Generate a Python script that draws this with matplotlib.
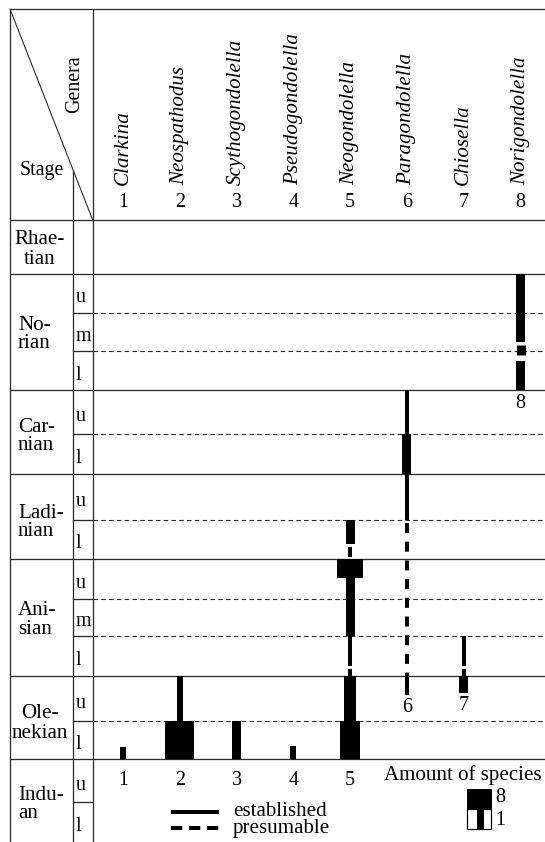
import numpy as np
import matplotlib.pyplot as plt
from matplotlib.patches import Rectangle
from matplotlib.transforms import blended_transform_factory

plt.rcParams['font.family'] = ['Liberation Serif', 'DejaVu Serif']
plt.rcParams['lines.scale_dashes'] = False

# stages from the base of the Triassic upward, with their substages
stage_labels = ['Indu-\nan', 'Ole-\nnekian', 'Ani-\nsian', 'Ladi-\nnian', 'Car-\nnian', 'No-\nrian', 'Rhae-\ntian']
substages = [['l', 'u'], ['l', 'u'], ['l', 'm', 'u'], ['l', 'u'], ['l', 'u'], ['l', 'm', 'u'], ['']]

genera = ['Clarkina', 'Neospathodus', 'Scythogondolella', 'Pseudogondolella',
          'Neogondolella', 'Paragondolella', 'Chiosella', 'Norigondolella']

# ranges: (genus no., base, top, amount of species); base/top in substages counted
# from the base of the Induan, amount 0 = range line only
established = [
    (1, 2.0, 2.32, 1),
    (2, 2.0, 3.0, 8),
    (2, 3.0, 4.0, 1),
    (3, 2.0, 3.0, 2),
    (4, 2.0, 2.34, 1),
    (5, 2.0, 3.0, 5),
    (5, 3.0, 4.0, 3),
    (5, 4.26, 5.0, 0),
    (5, 5.0, 6.52, 2),
    (5, 6.52, 7.0, 7),
    (5, 7.38, 8.0, 2),
    (6, 3.58, 4.0, 0),
    (6, 8.0, 9.0, 0),
    (6, 9.0, 10.0, 2),
    (6, 10.0, 11.0, 0),
    (7, 3.63, 4.0, 2),
    (7, 4.26, 5.0, 0),
    (8, 11.0, 11.74, 2),
    (8, 12.24, 14.0, 2),
]
presumable = [
    (5, 4.0, 4.26, 0),
    (5, 7.0, 7.38, 0),
    (6, 4.0, 8.0, 0),
    (7, 4.0, 4.26, 0),
    (8, 11.74, 12.24, 2),
]

W, H = 545, 842
row_px = [40, 43, 38, 45, 40, 37, 40, 39, 46, 40, 44, 39, 38, 39, 54]
col0, col_step = 66.1, 56.8
ink = '#2b2b2b'


def bar_px(n):
    return 2.3 + 3.4 * n if n else 4.0


fig = plt.figure(figsize=(W / 72, H / 72), dpi=72)
frame = fig.add_axes([0, 0, 1, 1])
frame.set_xlim(0, W)
frame.set_ylim(H, 0)
frame.axis('off')

edges = np.concatenate([[0], np.cumsum(row_px)]).astype(float)
lv = np.arange(len(edges), dtype=float)
hdr = H - edges[-1]
ax = fig.add_axes([0, 0, 1, edges[-1] / H], zorder=2)
ax.patch.set_visible(False)
ax.axis('off')
ax.set_yscale('function', functions=(lambda v: np.interp(v, lv, edges),
                                     lambda p: np.interp(p, edges, lv)))
ax.set_ylim(0, len(row_px))
ax.set_xlim(-col0 / col_step, (W - col0) / col_step)

px_lv = blended_transform_factory(frame.transData, ax.transData)
g_px = blended_transform_factory(ax.transData, frame.transData)

# table grid
n_sub = [len(s) for s in substages]
stage_edges = np.concatenate([[0], np.cumsum(n_sub)])
first_base = min(r[1] for r in established)
line_kw = dict(color=ink, lw=1.3, solid_capstyle='butt')
for e in stage_edges[1:]:
    frame.plot([10, W], [e, e], transform=px_lv, **line_kw)
for s, subs in enumerate(substages):
    for k in range(1, len(subs)):
        e = stage_edges[s] + k
        frame.plot([73, 92.7], [e, e], transform=px_lv, **line_kw)
        if e > first_base:
            frame.plot([92.7, W], [e, e], transform=px_lv, color=ink, lw=1.1,
                       ls=(0, (4.5, 3.3)))
frame.plot([10, W], [9, 9], **line_kw)
frame.plot([10, 10], [9, H], **line_kw)
frame.plot([92.7, 92.7], [9, H], **line_kw)
frame.plot([73, 73], [170, H], **line_kw)
frame.plot([10, 92.7], [9, hdr], color=ink, lw=1.1)

frame.text(20, 175, 'Stage', fontsize=20, va='baseline')
frame.text(75, 84, 'Genera', fontsize=20, rotation=90, ha='center', va='center')

for s, label in enumerate(stage_labels):
    c = (stage_edges[s] + stage_edges[s + 1]) / 2
    wide = label in ('Rhae-\ntian', 'Ole-\nnekian')
    for j, line in enumerate(label.split('\n')):
        frame.annotate(line, xy=(40 if wide else 18, c), xycoords=px_lv,
                       xytext=(0, 2.5 - 19 * j), textcoords='offset points',
                       ha='center' if wide else 'left', va='baseline', fontsize=21)
    for k, sub in enumerate(substages[s]):
        frame.annotate(sub, xy=(75.5, stage_edges[s] + k + 0.5), xycoords=px_lv,
                       xytext=(0, -9), textcoords='offset points',
                       ha='left', va='baseline', fontsize=20)

# genus headings
for i, name in enumerate(genera, start=1):
    ax.text(i, 185, name, transform=g_px, rotation=90, ha='center', va='bottom',
            fontsize=21, style='italic')
    ax.text(i, 202.5, str(i), transform=g_px, ha='center', va='center', fontsize=20)

# ranges
for g, base, top, n in established:
    ax.bar(g, top - base, bottom=base, width=bar_px(n) / col_step,
           color='black', linewidth=0)
for g, base, top, n in presumable:
    ax.plot([g, g], [top, base], color='black', lw=bar_px(n),
            ls=(15.7, (10, 8.7)), dash_capstyle='butt')

# genus numbers under the ranges
for i in range(1, len(genera) + 1):
    base = min(r[1] for r in established + presumable if r[0] == i)
    if base <= first_base:
        ax.text(i, first_base - 0.5, str(i), ha='center', va='center', fontsize=20)
    else:
        ax.annotate(str(i), xy=(i, base), xytext=(0, -3.5), textcoords='offset points',
                    ha='center', va='top', fontsize=20)

# legend
frame.plot([171, 219.3], [811.7, 811.7], color='black', lw=4, solid_capstyle='butt')
frame.plot([171, 219.3], [828.3, 828.3], color='black', lw=4,
           ls=(0, (11.3, 6.7)), dash_capstyle='butt')
frame.text(232.7, 815.5, 'established', fontsize=21, va='baseline')
frame.text(232.7, 833.5, 'presumable', fontsize=21, va='baseline')
frame.text(542, 780, 'Amount of species', fontsize=21, ha='right', va='baseline')
frame.add_patch(Rectangle((467.3, 789.3), 23.4, 20, color='black'))
frame.add_patch(Rectangle((467.3, 809.3), 23.4, 20, fc='white', ec='black', lw=1.2))
frame.add_patch(Rectangle((476.7, 809.3), 6.6, 20, color='black'))
frame.text(495, 797, '8', fontsize=20, va='center')
frame.text(495, 820.7, '1', fontsize=20, va='center')

fig.savefig('out.png', dpi=72, facecolor='white')
